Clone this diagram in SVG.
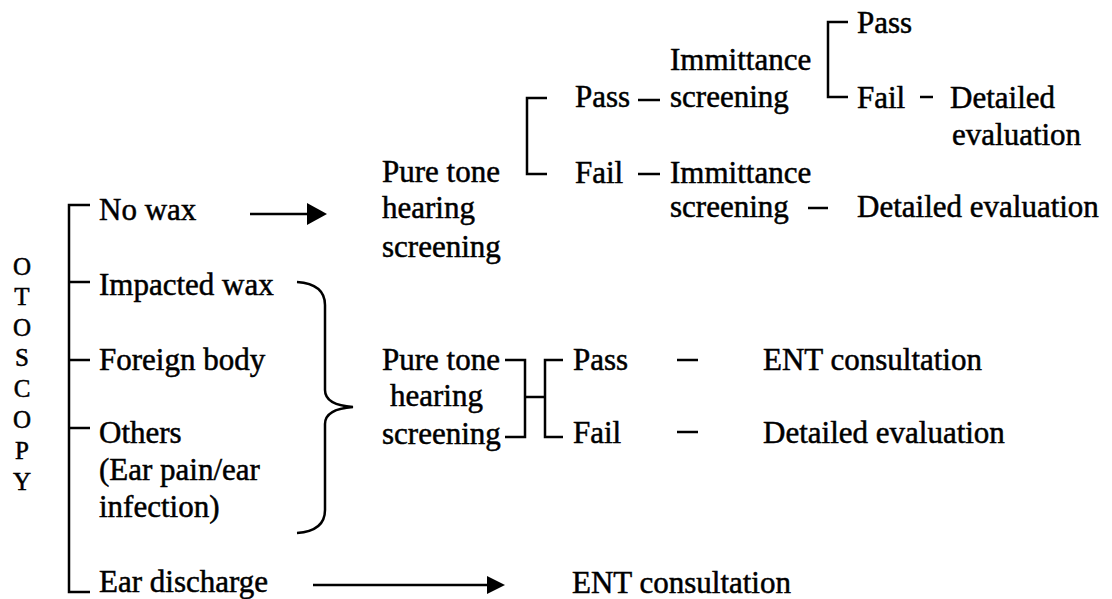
<svg xmlns="http://www.w3.org/2000/svg" width="1112" height="599" viewBox="0 0 1112 599" font-family="'Liberation Serif', 'Times New Roman', Times, serif">
<style>
text{font-size:31px;fill:#000;stroke:#000;stroke-width:0.5}
.v{font-size:25px;text-anchor:middle}
.c line,.c polyline,.c path{stroke:#000;stroke-width:2.5;fill:none}
.ah{fill:#000;stroke:none}
</style>
<rect width="1112" height="599" fill="#fff"/>
<g id="otoscopy">
<text class="v" x="22" y="275">O</text>
<text class="v" x="22" y="305">T</text>
<text class="v" x="22" y="336">O</text>
<text class="v" x="22" y="366">S</text>
<text class="v" x="22" y="397">C</text>
<text class="v" x="22" y="428">O</text>
<text class="v" x="22" y="459">P</text>
<text class="v" x="22" y="490">Y</text>
</g>
<g id="no-wax"><text x="99" y="220">No wax</text></g>
<g id="impacted-wax"><text x="99" y="295">Impacted wax</text></g>
<g id="foreign-body"><text x="99" y="370">Foreign body</text></g>
<g id="others"><text x="99" y="443">Others</text><text x="99" y="480">(Ear pain/ear</text><text x="99" y="517">infection)</text></g>
<g id="ear-discharge"><text x="99" y="592">Ear discharge</text></g>
<g id="pt-top"><text x="382" y="182">Pure tone</text><text x="382" y="218">hearing</text><text x="382" y="257">screening</text></g>
<g id="pass-1"><text x="575" y="107">Pass</text></g>
<g id="fail-1"><text x="575" y="183">Fail</text></g>
<g id="imm-1"><text x="670" y="70">Immittance</text><text x="670" y="107">screening</text></g>
<g id="imm-2"><text x="670" y="183">Immittance</text><text x="670" y="217">screening</text></g>
<g id="pass-2"><text x="857" y="33">Pass</text></g>
<g id="fail-2"><text x="857" y="108">Fail</text></g>
<g id="detailed-1"><text x="950" y="108">Detailed</text><text x="952" y="145">evaluation</text></g>
<g id="detailed-2"><text x="857" y="217">Detailed evaluation</text></g>
<g id="pt-bottom"><text x="382" y="370">Pure tone</text><text x="390" y="406">hearing</text><text x="382" y="444">screening</text></g>
<g id="pass-3"><text x="573" y="370">Pass</text></g>
<g id="fail-3"><text x="573" y="443">Fail</text></g>
<g id="ent-1"><text x="763" y="370">ENT consultation</text></g>
<g id="detailed-3"><text x="763" y="443">Detailed evaluation</text></g>
<g id="ent-2"><text x="572" y="593">ENT consultation</text></g>
<g id="connectors" class="c">
<polyline points="90,205 69,205 69,592 90,592"/>
<line x1="69" y1="282" x2="90" y2="282"/>
<line x1="69" y1="360" x2="90" y2="360"/>
<line x1="69" y1="428" x2="90" y2="428"/>
<line x1="250" y1="214" x2="308" y2="214"/>
<polygon class="ah" points="307,203 327,214 307,225"/>
<line x1="313" y1="585" x2="488" y2="585"/>
<polygon class="ah" points="487,576 505,585 487,594"/>
<path d="M297,282 Q325,284 325,305 L325,390 Q325,405 353,407 Q325,409 325,424 L325,510 Q325,531 297,533"/>
<polyline points="547,98 527,98 527,174 547,174"/>
<line x1="638" y1="100" x2="660" y2="100"/>
<line x1="638" y1="174" x2="660" y2="174"/>
<polyline points="848,22 828,22 828,97 848,97"/>
<line x1="920" y1="97" x2="933" y2="97"/>
<line x1="808" y1="208" x2="828" y2="208"/>
<polyline points="505,360 525,360 525,437 505,437"/>
<line x1="525" y1="397" x2="545" y2="397"/>
<polyline points="563,360 545,360 545,437 563,437"/>
<line x1="677" y1="360" x2="698" y2="360"/>
<line x1="677" y1="432" x2="698" y2="432"/>
</g>
</svg>
